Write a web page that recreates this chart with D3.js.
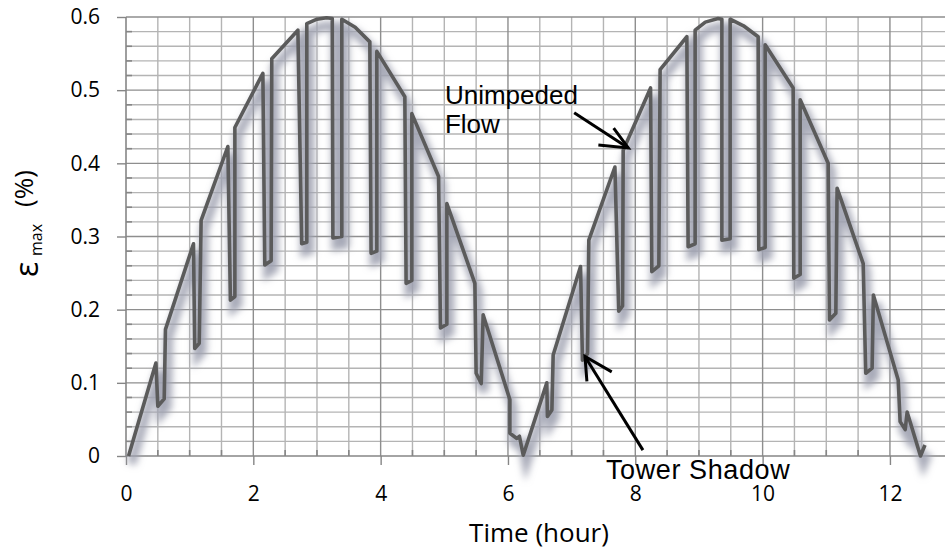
<!DOCTYPE html>
<html>
<head>
<meta charset="utf-8">
<script src="https://cdn.jsdelivr.net/npm/d3@7"></script>
<style>
  body { margin: 0; background: #fff; }
  svg { display: block; }
</style>
</head>
<body>
<div id="container"></div>
<script>
const width = 945;
const height = 554;

//------------------DONNEES------------------//
const timeHours = [
  0.04, 0.47, 0.50, 0.60, 0.62, 1.06, 1.08, 1.15, 1.18, 1.60, 1.64, 1.71, 1.71,
  2.15, 2.18, 2.28, 2.29, 2.70, 2.76, 2.84, 2.84, 3.00, 3.15, 3.24, 3.25, 3.39,
  3.39, 3.60, 3.83, 3.85, 3.94, 3.94, 4.38, 4.40, 4.49, 4.49, 4.91, 4.94, 5.04,
  5.04, 5.48, 5.50, 5.58, 5.61, 6.03, 6.03, 6.14, 6.18, 6.24, 6.61, 6.62, 6.69,
  6.71, 7.14, 7.17, 7.25, 7.27, 7.68, 7.74, 7.80, 7.81, 8.24, 8.26, 8.37, 8.39,
  8.81, 8.83, 8.94, 8.94, 9.10, 9.30, 9.36, 9.36, 9.49, 9.49, 9.70, 9.93, 9.94,
  10.04, 10.04, 10.48, 10.49, 10.59, 10.59, 11.03, 11.05, 11.15, 11.17, 11.58,
  11.62, 11.72, 11.74, 12.13, 12.16, 12.24, 12.27, 12.48, 12.55
];
const strainMax = [
  0.000, 0.127, 0.068, 0.078, 0.173, 0.290, 0.147, 0.154, 0.322, 0.423, 0.213, 0.218, 0.449,
  0.523, 0.261, 0.267, 0.543, 0.582, 0.290, 0.292, 0.591, 0.597, 0.599, 0.598, 0.298, 0.300,
  0.597, 0.586, 0.566, 0.277, 0.280, 0.553, 0.491, 0.236, 0.240, 0.468, 0.382, 0.175, 0.180,
  0.345, 0.236, 0.113, 0.099, 0.193, 0.077, 0.031, 0.024, 0.027, 0.001, 0.100, 0.054, 0.063,
  0.138, 0.259, 0.131, 0.140, 0.295, 0.395, 0.198, 0.205, 0.418, 0.503, 0.252, 0.260, 0.528,
  0.573, 0.286, 0.290, 0.582, 0.593, 0.598, 0.597, 0.295, 0.297, 0.597, 0.588, 0.573, 0.282,
  0.285, 0.562, 0.503, 0.243, 0.248, 0.487, 0.400, 0.186, 0.195, 0.366, 0.263,
  0.113, 0.120, 0.220, 0.104, 0.047, 0.036, 0.060, 0.000, 0.015
];
const xTicks = [0, 2, 4, 6, 8, 10, 12];
const yTicks = [0, 0.1, 0.2, 0.3, 0.4, 0.5, 0.6];

const points = timeHours.map(function(t, i) { return { t: t, e: strainMax[i] }; });

//------------------SVG------------------//
const svg = d3.select("div#container").append("svg")
  .attr("width", width)
  .attr("height", height);

const defs = svg.append("defs");
defs.append("filter")
  .attr("id", "blur")
  .attr("x", "-20%").attr("y", "-20%")
  .attr("width", "140%").attr("height", "140%")
  .append("feGaussianBlur")
  .attr("stdDeviation", 3.5);

//------------------ECHELLES------------------//
const xScale = d3.scaleLinear().domain([0, 12.865]).range([126, 945]);
const yScale = d3.scaleLinear().domain([0, 0.6]).range([456, 17]);

//------------------GRILLE------------------//
const vMinor = d3.range(0.5, 12.87, 0.5).filter(function(d) { return Math.abs(d % 2) > 1e-6; });
const hMinor = d3.range(1, 31).map(function(i) { return i * 0.02; })
  .filter(function(d) { return Math.round(d * 50) % 5 !== 0; });

svg.append("g").selectAll("line")
  .data(vMinor).enter().append("line")
  .attr("x1", function(d) { return xScale(d); })
  .attr("x2", function(d) { return xScale(d); })
  .attr("y1", yScale(0.6)).attr("y2", yScale(0))
  .style("stroke", "#b4b4b4").style("stroke-width", 1.4);

svg.append("g").selectAll("line")
  .data(hMinor).enter().append("line")
  .attr("x1", xScale(0)).attr("x2", width)
  .attr("y1", function(d) { return yScale(d); })
  .attr("y2", function(d) { return yScale(d); })
  .style("stroke", "#b4b4b4").style("stroke-width", 1.4);

svg.append("g").selectAll("line")
  .data(xTicks.slice(1)).enter().append("line")
  .attr("x1", function(d) { return xScale(d); })
  .attr("x2", function(d) { return xScale(d); })
  .attr("y1", yScale(0.6)).attr("y2", yScale(0))
  .style("stroke", "#8e8e8e").style("stroke-width", 1.4);

svg.append("g").selectAll("line")
  .data(yTicks.slice(1)).enter().append("line")
  .attr("x1", xScale(0)).attr("x2", width)
  .attr("y1", function(d) { return yScale(d); })
  .attr("y2", function(d) { return yScale(d); })
  .style("stroke", "#8e8e8e").style("stroke-width", 1.4);

//------------------AXES------------------//
const xaxis = d3.axisBottom(xScale)
  .tickValues(xTicks)
  .tickSize(9)
  .tickPadding(21)
  .tickFormat(d3.format("d"));

const yaxis = d3.axisLeft(yScale)
  .tickValues(yTicks)
  .tickSize(9)
  .tickPadding(17)
  .tickFormat(function(d) { return d === 0 ? "0" : d3.format(".1f")(d); });

const gx = svg.append("g")
  .attr("transform", "translate(0," + yScale(0) + ")")
  .call(xaxis);
const gy = svg.append("g")
  .attr("transform", "translate(" + xScale(0) + ",0)")
  .call(yaxis);

[gx, gy].forEach(function(g) {
  g.select(".domain").remove();
  g.selectAll(".tick line").style("stroke", "#868686").style("stroke-width", 1.4);
  g.selectAll(".tick text")
    .style("font-family", "'Open Sans', sans-serif")
    .style("font-size", "21px")
    .style("fill", "#000");
});
gx.selectAll(".tick text").attr("dy", "0.71em");

// lignes d'axe
svg.append("line")
  .attr("x1", xScale(0)).attr("x2", width)
  .attr("y1", yScale(0)).attr("y2", yScale(0))
  .style("stroke", "#868686").style("stroke-width", 1.6);
svg.append("line")
  .attr("x1", xScale(0)).attr("x2", xScale(0))
  .attr("y1", yScale(0.6)).attr("y2", yScale(0))
  .style("stroke", "#868686").style("stroke-width", 1.6);

// petites graduations internes
svg.append("g").selectAll("line")
  .data(vMinor).enter().append("line")
  .attr("x1", function(d) { return xScale(d); })
  .attr("x2", function(d) { return xScale(d); })
  .attr("y1", yScale(0) - 6).attr("y2", yScale(0))
  .style("stroke", "#868686").style("stroke-width", 1.6);
svg.append("g").selectAll("line")
  .data(hMinor).enter().append("line")
  .attr("x1", xScale(0)).attr("x2", xScale(0) + 6)
  .attr("y1", function(d) { return yScale(d); })
  .attr("y2", function(d) { return yScale(d); })
  .style("stroke", "#868686").style("stroke-width", 1.6);

//------------------LIGNE------------------//
const line = d3.line()
  .x(function(d) { return xScale(d.t); })
  .y(function(d) { return yScale(d.e); });

svg.append("path")
  .datum(points)
  .attr("d", line)
  .attr("transform", "translate(3,8)")
  .attr("filter", "url(#blur)")
  .style("fill", "none")
  .style("stroke", "#9ea1b0")
  .style("stroke-opacity", 0.9)
  .style("stroke-width", 9);

svg.append("path")
  .datum(points)
  .attr("d", line)
  .style("fill", "none")
  .style("stroke", "#5b5b5b")
  .style("stroke-width", 3.6)
  .style("stroke-linejoin", "round");

//------------------ANNOTATIONS------------------//
function arrow(tail, tip, sideA, sideB) {
  const g = svg.append("g")
    .style("stroke", "#000").style("stroke-width", 3).style("fill", "none");
  g.append("line")
    .attr("x1", xScale(tail[0])).attr("y1", yScale(tail[1]))
    .attr("x2", xScale(tip[0])).attr("y2", yScale(tip[1]));
  g.append("polyline")
    .attr("points", [sideA, tip, sideB].map(function(p) {
      return xScale(p[0]) + "," + yScale(p[1]);
    }).join(" "));
}

arrow([7.04, 0.469], [7.89, 0.421], [7.42, 0.425], [7.66, 0.448]);
arrow([8.12, 0.008], [7.21, 0.136], [7.63, 0.115], [7.24, 0.102]);

const annot = svg.append("g")
  .style("font-family", "'Liberation Sans', Arial, sans-serif")
  .style("font-size", "26px")
  .style("fill", "#000");
annot.append("text").attr("x", xScale(5.01)).attr("y", yScale(0.481)).text("Unimpeded");
annot.append("text").attr("x", xScale(5.01)).attr("y", yScale(0.441)).text("Flow");
annot.append("text").attr("x", xScale(7.54)).attr("y", yScale(-0.031))
  .style("font-size", "27px")
  .style("letter-spacing", "0.6px")
  .text("Tower Shadow");

//------------------TITRES D'AXES------------------//
svg.append("text")
  .attr("x", 539)
  .attr("y", 542)
  .style("text-anchor", "middle")
  .style("font-family", "'Open Sans', sans-serif")
  .style("font-size", "26px")
  .text("Time (hour)");

const ylab = svg.append("g")
  .style("font-family", "'Open Sans', sans-serif")
  .style("fill", "#000");
ylab.append("text")
  .attr("transform", "translate(38,277) rotate(-90)")
  .style("font-size", "32px")
  .text("ε");
ylab.append("text")
  .attr("transform", "translate(42,256) rotate(-90)")
  .style("font-size", "16px")
  .text("max");
ylab.append("text")
  .attr("transform", "translate(33,207) rotate(-90)")
  .style("font-size", "26px")
  .text("(%)");
</script>
</body>
</html>
